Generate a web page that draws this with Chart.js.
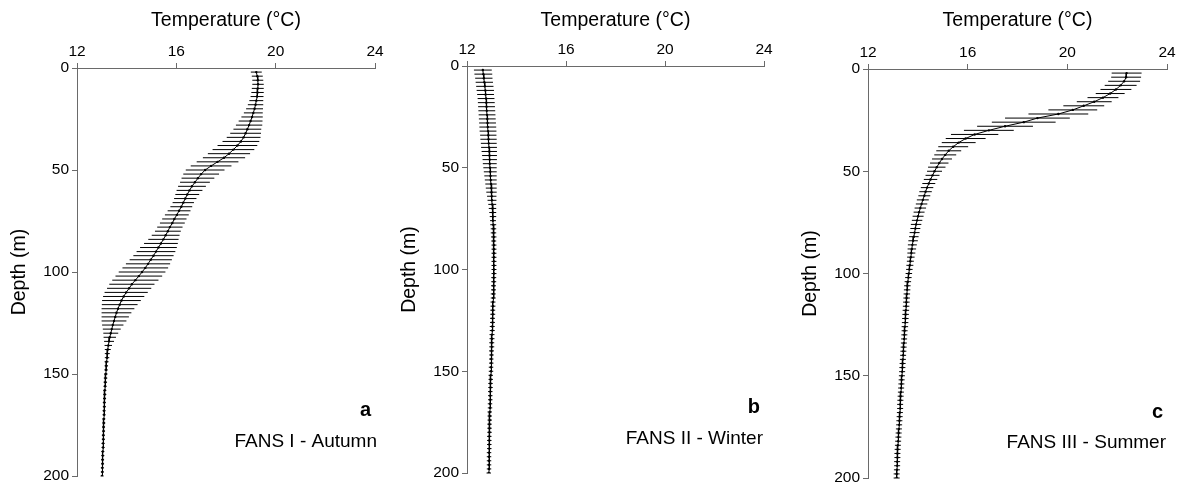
<!DOCTYPE html>
<html>
<head>
<meta charset="utf-8">
<title>FANS temperature profiles</title>
<script src="https://cdn.jsdelivr.net/npm/chart.js@4.4.1/dist/chart.umd.min.js"></script>
<style>
  html, body { margin: 0; padding: 0; background: #fff; }
  body { width: 1182px; height: 482px; position: relative; overflow: hidden; }
  canvas { position: absolute; top: 0; }
</style>
</head>
<body>
<canvas id="fans1" width="393" height="482" style="left:0px"></canvas>
<canvas id="fans2" width="393" height="482" style="left:390px"></canvas>
<canvas id="fans3" width="391" height="482" style="left:791px"></canvas>
<script>
// sampling depths (m)
const depths = [
  2, 4, 6, 8, 10, 12, 14, 16, 18, 20,
  22, 24, 26, 28, 30, 32, 34, 36, 38, 40,
  42, 44, 46, 48, 50, 52, 54, 56, 58, 60,
  62, 64, 66, 68, 70, 72, 74, 76, 78, 80,
  82, 84, 86, 88, 90, 92, 94, 96, 98, 100,
  102, 104, 106, 108, 110, 112, 114, 116, 118, 120,
  122, 124, 126, 128, 130, 132, 134, 136, 138, 140,
  142, 144, 146, 148, 150, 152, 154, 156, 158, 160,
  162, 164, 166, 168, 170, 172, 174, 176, 178, 180,
  182, 184, 186, 188, 190, 192, 194, 196, 198, 200
];

// FANS I - Autumn: mean temperature and SD (degC)
const tempAutumn = [
  19.22, 19.26, 19.28, 19.29, 19.28, 19.27, 19.25, 19.22, 19.19, 19.15,
  19.10, 19.05, 18.99, 18.93, 18.86, 18.79, 18.71, 18.60, 18.46, 18.30,
  18.12, 17.92, 17.66, 17.40, 17.16, 17.00, 16.87, 16.75, 16.63, 16.53,
  16.44, 16.36, 16.28, 16.20, 16.11, 16.02, 15.92, 15.84, 15.74, 15.66,
  15.57, 15.48, 15.38, 15.28, 15.18, 15.08, 14.97, 14.86, 14.75, 14.62,
  14.49, 14.35, 14.21, 14.10, 13.98, 13.88, 13.79, 13.72, 13.65, 13.59,
  13.54, 13.49, 13.44, 13.40, 13.36, 13.32, 13.29, 13.26, 13.24, 13.22,
  13.21, 13.19, 13.18, 13.17, 13.16, 13.15, 13.14, 13.13, 13.12, 13.12,
  13.11, 13.10, 13.10, 13.09, 13.09, 13.08, 13.08, 13.07, 13.07, 13.06,
  13.06, 13.05, 13.05, 13.04, 13.04, 13.03, 13.03, 13.02, 13.02, 13.01
];
const sdAutumn = [
  0.22, 0.22, 0.22, 0.23, 0.24, 0.25, 0.26, 0.28, 0.31, 0.34,
  0.38, 0.43, 0.48, 0.53, 0.56, 0.62, 0.68, 0.74, 0.80, 0.84,
  0.85, 0.85, 0.84, 0.82, 0.78, 0.72, 0.66, 0.60, 0.56, 0.52,
  0.48, 0.45, 0.43, 0.44, 0.46, 0.48, 0.49, 0.50, 0.51, 0.52,
  0.56, 0.61, 0.68, 0.74, 0.78, 0.81, 0.85, 0.89, 0.92, 0.94,
  0.94, 0.93, 0.91, 0.89, 0.87, 0.83, 0.78, 0.72, 0.66, 0.60,
  0.55, 0.50, 0.43, 0.36, 0.30, 0.25, 0.20, 0.15, 0.12, 0.10,
  0.09, 0.08, 0.07, 0.07, 0.07, 0.07, 0.07, 0.06, 0.06, 0.06,
  0.06, 0.06, 0.06, 0.06, 0.06, 0.06, 0.06, 0.06, 0.06, 0.06,
  0.06, 0.06, 0.06, 0.06, 0.06, 0.06, 0.06, 0.06, 0.06, 0.06
];

// FANS II - Winter
const tempWinter = [
  12.64, 12.66, 12.68, 12.70, 12.72, 12.74, 12.75, 12.77, 12.78, 12.79,
  12.80, 12.81, 12.82, 12.83, 12.84, 12.85, 12.86, 12.87, 12.88, 12.89,
  12.90, 12.91, 12.92, 12.92, 12.93, 12.94, 12.95, 12.96, 12.97, 12.98,
  12.99, 13.00, 13.01, 13.02, 13.03, 13.04, 13.05, 13.05, 13.06, 13.07,
  13.07, 13.08, 13.08, 13.09, 13.09, 13.09, 13.09, 13.09, 13.09, 13.09,
  13.09, 13.08, 13.08, 13.07, 13.07, 13.06, 13.06, 13.05, 13.05, 13.04,
  13.04, 13.03, 13.03, 13.02, 13.02, 13.01, 13.01, 13.00, 13.00, 12.99,
  12.99, 12.98, 12.98, 12.97, 12.97, 12.96, 12.96, 12.95, 12.95, 12.94,
  12.94, 12.94, 12.93, 12.93, 12.92, 12.92, 12.92, 12.91, 12.91, 12.91,
  12.90, 12.90, 12.90, 12.90, 12.89, 12.89, 12.89, 12.89, 12.89, 12.88
];
const sdWinter = [
  0.36, 0.36, 0.35, 0.35, 0.35, 0.35, 0.34, 0.34, 0.34, 0.34,
  0.34, 0.34, 0.34, 0.34, 0.34, 0.34, 0.33, 0.33, 0.32, 0.32,
  0.31, 0.30, 0.29, 0.28, 0.27, 0.26, 0.25, 0.24, 0.23, 0.22,
  0.21, 0.19, 0.18, 0.16, 0.15, 0.14, 0.13, 0.12, 0.12, 0.11,
  0.11, 0.11, 0.10, 0.10, 0.10, 0.10, 0.10, 0.10, 0.10, 0.10,
  0.10, 0.10, 0.10, 0.10, 0.10, 0.10, 0.10, 0.10, 0.10, 0.10,
  0.10, 0.10, 0.10, 0.10, 0.10, 0.10, 0.10, 0.10, 0.10, 0.10,
  0.09, 0.09, 0.09, 0.09, 0.09, 0.09, 0.09, 0.09, 0.09, 0.09,
  0.09, 0.09, 0.09, 0.09, 0.09, 0.09, 0.09, 0.09, 0.09, 0.09,
  0.09, 0.09, 0.09, 0.09, 0.09, 0.09, 0.09, 0.09, 0.09, 0.09
];

// FANS III - Summer
const tempSummer = [
  22.38, 22.36, 22.28, 22.14, 21.95, 21.72, 21.43, 21.08, 20.66, 20.22,
  19.64, 18.80, 18.25, 17.50, 16.85, 16.28, 15.92, 15.64, 15.42, 15.24,
  15.10, 14.97, 14.86, 14.76, 14.67, 14.59, 14.51, 14.44, 14.37, 14.31,
  14.26, 14.20, 14.15, 14.10, 14.05, 14.01, 13.97, 13.93, 13.90, 13.87,
  13.84, 13.81, 13.78, 13.76, 13.74, 13.72, 13.70, 13.68, 13.66, 13.64,
  13.62, 13.60, 13.58, 13.57, 13.56, 13.55, 13.54, 13.53, 13.52, 13.51,
  13.50, 13.49, 13.48, 13.47, 13.46, 13.45, 13.44, 13.43, 13.42, 13.41,
  13.40, 13.39, 13.38, 13.37, 13.36, 13.35, 13.34, 13.33, 13.32, 13.31,
  13.30, 13.29, 13.29, 13.28, 13.27, 13.26, 13.25, 13.24, 13.23, 13.22,
  13.21, 13.20, 13.19, 13.18, 13.18, 13.17, 13.17, 13.16, 13.15, 13.15
];
const sdSummer = [
  0.60, 0.60, 0.64, 0.64, 0.62, 0.58, 0.62, 0.70, 0.82, 0.98,
  1.20, 1.30, 1.28, 1.12, 1.00, 0.95, 0.80, 0.68, 0.60, 0.50,
  0.44, 0.40, 0.37, 0.35, 0.30, 0.28, 0.27, 0.26, 0.25, 0.25,
  0.24, 0.24, 0.23, 0.23, 0.22, 0.22, 0.21, 0.21, 0.20, 0.20,
  0.19, 0.19, 0.18, 0.17, 0.16, 0.15, 0.14, 0.14, 0.13, 0.13,
  0.13, 0.13, 0.13, 0.13, 0.13, 0.13, 0.13, 0.13, 0.13, 0.13,
  0.13, 0.13, 0.13, 0.12, 0.12, 0.12, 0.12, 0.12, 0.12, 0.12,
  0.12, 0.12, 0.12, 0.12, 0.12, 0.12, 0.12, 0.12, 0.12, 0.12,
  0.12, 0.12, 0.12, 0.12, 0.12, 0.12, 0.12, 0.12, 0.12, 0.12,
  0.12, 0.12, 0.12, 0.12, 0.12, 0.12, 0.12, 0.12, 0.12, 0.12
];

const tempTicks = [12, 16, 20, 24];
const depthTicks = [0, 50, 100, 150, 200];
const panelLetters = ['a', 'b', 'c'];
const panelCaptions = ['FANS I - Autumn', 'FANS II - Winter', 'FANS III - Summer'];

const FONT = "'Liberation Sans', Arial, sans-serif";
const AXIS = '#6a6a6a';

// horizontal +/- SD bars behind the mean profile
const errorBars = {
  id: 'errorBars',
  beforeDatasetsDraw(chart) {
    const { ctx, scales: { x, y } } = chart;
    const ds = chart.data.datasets[0];
    ctx.save();
    ctx.strokeStyle = '#000';
    ctx.lineWidth = 1;
    ctx.beginPath();
    ds.data.forEach((p, i) => {
      const py = y.getPixelForValue(p.y);
      ctx.moveTo(x.getPixelForValue(p.x - ds.sd[i]), py);
      ctx.lineTo(x.getPixelForValue(p.x + ds.sd[i]), py);
    });
    ctx.stroke();
    ctx.restore();
  }
};

// panel letter and cruise name in the lower right corner
const panelLabel = {
  id: 'panelLabel',
  afterDraw(chart, args, opts) {
    const { ctx, chartArea, scales: { y } } = chart;
    ctx.save();
    ctx.fillStyle = '#000';
    ctx.textAlign = 'right';
    ctx.textBaseline = 'middle';
    ctx.font = 'bold 20px ' + FONT;
    ctx.fillText(opts.letter, chartArea.right - 4, y.getPixelForValue(168));
    ctx.font = '19px ' + FONT;
    ctx.fillText(opts.caption, chartArea.right + opts.shift, y.getPixelForValue(183));
    ctx.restore();
  }
};

function makePanel(id, temps, sds, idx, box) {
  new Chart(document.getElementById(id), {
    type: 'scatter',
    data: {
      datasets: [{
        data: depths.map((d, i) => ({ x: temps[i], y: d })),
        sd: sds,
        showLine: true,
        borderColor: '#000',
        borderWidth: 1,
        pointRadius: 1.2,
        pointBackgroundColor: '#000',
        pointBorderWidth: 0,
        tension: 0
      }]
    },
    options: {
      responsive: false,
      animation: false,
      events: [],
      layout: { padding: { left: 0, top: 0, right: box.right, bottom: box.bottom } },
      plugins: {
        legend: { display: false },
        tooltip: { enabled: false },
        panelLabel: { letter: panelLetters[idx], caption: panelCaptions[idx], shift: box.shift }
      },
      scales: {
        x: {
          type: 'linear',
          position: 'top',
          min: 12,
          max: 24,
          afterBuildTicks: s => { s.ticks = tempTicks.map(v => ({ value: v })); },
          afterFit: s => { s.height = box.top; s.paddingLeft = 0; s.paddingRight = 0; },
          grid: { drawOnChartArea: false, tickLength: 5, color: AXIS },
          border: { color: AXIS, width: 1 },
          ticks: { color: '#000', font: { family: FONT, size: 15.5 }, padding: 2, maxRotation: 0 },
          title: {
            display: true,
            text: 'Temperature (°C)',
            color: '#000',
            font: { family: FONT, size: 19.5 },
            padding: { top: 9, bottom: 0 }
          }
        },
        y: {
          type: 'linear',
          position: 'left',
          reverse: true,
          min: 0,
          max: 200,
          afterBuildTicks: s => { s.ticks = depthTicks.map(v => ({ value: v })); },
          afterFit: s => { s.width = 77; s.paddingTop = 0; s.paddingBottom = 0; },
          grid: { drawOnChartArea: false, tickLength: 5, color: AXIS },
          border: { color: AXIS, width: 1 },
          ticks: { color: '#000', font: { family: FONT, size: 15.5 }, padding: 3 },
          title: {
            display: true,
            text: 'Depth (m)',
            color: '#000',
            font: { family: FONT, size: 19.5 },
            padding: { top: 8, bottom: 0 }
          }
        }
      }
    },
    plugins: [errorBars, panelLabel]
  });
}

makePanel('fans1', tempAutumn, sdAutumn, 0, { top: 68, right: 18, bottom: 6, shift: 2 });
makePanel('fans2', tempWinter, sdWinter, 1, { top: 66, right: 19, bottom: 9, shift: -1 });
makePanel('fans3', tempSummer, sdSummer, 2, { top: 69, right: 15, bottom: 4, shift: -1 });
</script>
</body>
</html>
